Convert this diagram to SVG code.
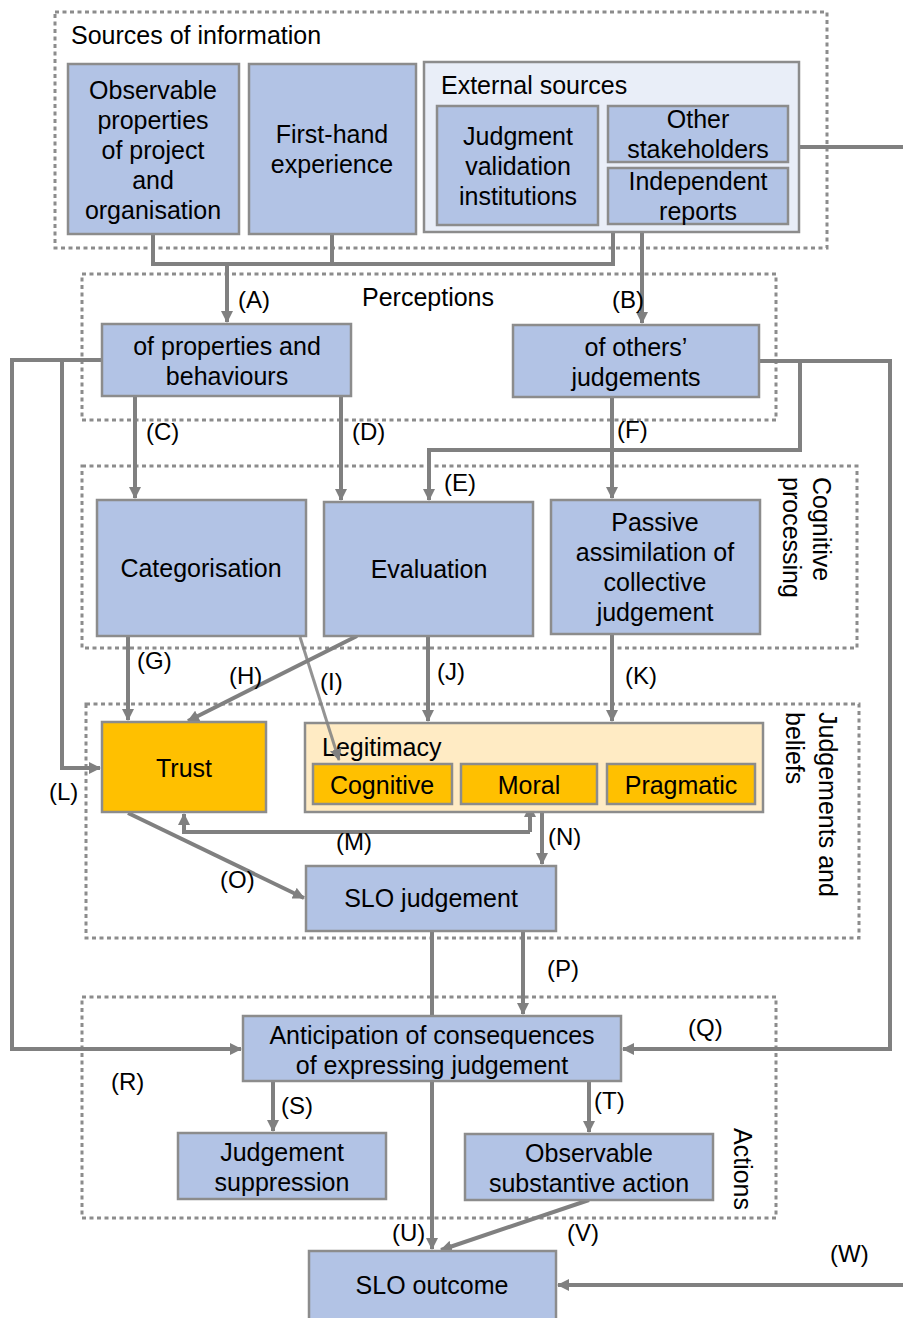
<svg xmlns="http://www.w3.org/2000/svg" width="903" height="1318" viewBox="0 0 903 1318">
<defs>
<marker id="arr" viewBox="0 0 12 12" refX="11" refY="6" markerWidth="12" markerHeight="12" markerUnits="userSpaceOnUse" orient="auto">
<path d="M0,0 L12,6 L0,12 z" fill="#808080"/>
</marker>
<style>
.grp{fill:none;stroke:#8c8c8c;stroke-width:3;stroke-dasharray:4 3.5}
.box{fill:#b2c3e5;stroke:#8c8c8c;stroke-width:2.5}
.org{fill:#ffc000;stroke:#8c8c8c;stroke-width:2.5}
.t{font-family:"Liberation Sans",Arial,sans-serif;font-size:25px;fill:#000}
.c{text-anchor:middle}
.lbl{font-family:"Liberation Sans",Arial,sans-serif;font-size:24px;fill:#000}
.ln{fill:none;stroke:#808080;stroke-width:4}
.la{fill:none;stroke:#808080;stroke-width:4;marker-end:url(#arr)}
</style>
</defs>
<rect width="903" height="1318" fill="#fff"/>

<g id="groups">
<rect class="grp" x="55" y="12" width="772" height="236"/>
<text class="t" x="71" y="44">Sources of information</text>
<rect class="grp" x="82" y="274" width="694" height="146"/>
<text class="t c" x="428" y="306">Perceptions</text>
<rect class="grp" x="82" y="466" width="775" height="182"/>
<text class="t" transform="translate(813,477) rotate(90)">Cognitive</text>
<text class="t" transform="translate(783,477) rotate(90)">processing</text>
<rect class="grp" x="86" y="704" width="773" height="234"/>
<text class="t" transform="translate(819,712) rotate(90)">Judgements and</text>
<text class="t" transform="translate(786,712) rotate(90)">beliefs</text>
<rect class="grp" x="82" y="997" width="694" height="221"/>
<text class="t" transform="translate(734,1128) rotate(90)">Actions</text>
</g>

<g id="connectors">
<path class="ln" d="M153,234 V264 H613 V232"/>
<path class="ln" d="M332,234 V264"/>
<path class="la" d="M227,264 V322"/>
<path class="la" d="M642,228 V323"/>
<path class="ln" d="M799,147 H903"/>
<path class="la" d="M102,360 H12 V1049 H241"/>
<path class="la" d="M62,360 V768 H100"/>
<path class="la" d="M759,361 H890 V1049 H623"/>
<path class="la" d="M800,361 V450 H429 V500"/>
<path class="la" d="M135,396 V498"/>
<path class="la" d="M341,396 V500"/>
<path class="la" d="M612,397 V498"/>
<path class="la" d="M128,636 V720"/>
<path class="la" d="M357,636 L188,721"/>
<path class="la" d="M428,636 V721"/>
<path class="la" d="M612,634 V721"/>
<path class="la" d="M530,832 V806"/>
<path class="la" d="M530,832 H184 V814"/>
<path class="la" d="M542,812 V864"/>
<path class="la" d="M128,813 L304,898"/>
<path class="ln" d="M432,931 V1016"/>
<path class="la" d="M523,931 V1014"/>
<path class="la" d="M273,1081 V1131"/>
<path class="la" d="M589,1081 V1132"/>
<path class="la" d="M432,1081 V1249"/>
<path class="la" d="M589,1200 L441,1250"/>
<path class="la" d="M903,1285 H558"/>
<text class="lbl" x="238" y="308">(A)</text>
<text class="lbl" x="612" y="308">(B)</text>
<text class="lbl" x="146" y="440">(C)</text>
<text class="lbl" x="352" y="440">(D)</text>
<text class="lbl" x="444" y="491">(E)</text>
<text class="lbl" x="617" y="438">(F)</text>
<text class="lbl" x="137" y="669">(G)</text>
<text class="lbl" x="229" y="684">(H)</text>
<text class="lbl" x="320" y="690">(I)</text>
<text class="lbl" x="437" y="680">(J)</text>
<text class="lbl" x="625" y="684">(K)</text>
<text class="lbl" x="49" y="800">(L)</text>
<text class="lbl" x="336" y="850">(M)</text>
<text class="lbl" x="548" y="845">(N)</text>
<text class="lbl" x="220" y="888">(O)</text>
<text class="lbl" x="547" y="977">(P)</text>
<text class="lbl" x="688" y="1036">(Q)</text>
<text class="lbl" x="111" y="1090">(R)</text>
<text class="lbl" x="281" y="1114">(S)</text>
<text class="lbl" x="594" y="1109">(T)</text>
<text class="lbl" x="392" y="1241">(U)</text>
<text class="lbl" x="567" y="1241">(V)</text>
<text class="lbl" x="830" y="1262">(W)</text>
</g>

<g id="n-observable">
<rect class="box" x="68" y="64" width="171" height="170"/>
<text class="t c" x="153" y="99">Observable</text>
<text class="t c" x="153" y="129">properties</text>
<text class="t c" x="153" y="159">of project</text>
<text class="t c" x="153" y="189">and</text>
<text class="t c" x="153" y="219">organisation</text>
</g>
<g id="n-firsthand">
<rect class="box" x="249" y="64" width="167" height="170"/>
<text class="t c" x="332" y="143">First-hand</text>
<text class="t c" x="332" y="173">experience</text>
</g>
<g id="n-external">
<rect x="424" y="62" width="375" height="170" fill="#e9eef8" stroke="#8c8c8c" stroke-width="2.5"/>
<text class="t" x="441" y="94">External sources</text>
</g>
<g id="n-jvi">
<rect class="box" x="437" y="106" width="161" height="119"/>
<text class="t c" x="518" y="145">Judgment</text>
<text class="t c" x="518" y="175">validation</text>
<text class="t c" x="518" y="205">institutions</text>
</g>
<g id="n-other">
<rect class="box" x="608" y="106" width="180" height="56"/>
<text class="t c" x="698" y="128">Other</text>
<text class="t c" x="698" y="158">stakeholders</text>
</g>
<g id="n-indep">
<rect class="box" x="608" y="168" width="180" height="56"/>
<text class="t c" x="698" y="190">Independent</text>
<text class="t c" x="698" y="220">reports</text>
</g>
<g id="n-props">
<rect class="box" x="102" y="324" width="249" height="72"/>
<text class="t c" x="227" y="355">of properties and</text>
<text class="t c" x="227" y="385">behaviours</text>
</g>
<g id="n-others">
<rect class="box" x="513" y="325" width="246" height="72"/>
<text class="t c" x="636" y="356">of others’</text>
<text class="t c" x="636" y="386">judgements</text>
</g>
<g id="n-categ">
<rect class="box" x="97" y="500" width="209" height="136"/>
<text class="t c" x="201" y="577">Categorisation</text>
</g>
<g id="n-eval">
<rect class="box" x="324" y="502" width="209" height="134"/>
<text class="t c" x="429" y="578">Evaluation</text>
</g>
<g id="n-passive">
<rect class="box" x="551" y="500" width="209" height="134"/>
<text class="t c" x="655" y="531">Passive</text>
<text class="t c" x="655" y="561">assimilation of</text>
<text class="t c" x="655" y="591">collective</text>
<text class="t c" x="655" y="621">judgement</text>
</g>
<g id="n-trust">
<rect class="org" x="102" y="722" width="164" height="90"/>
<text class="t c" x="184" y="777">Trust</text>
</g>
<g id="n-legit">
<rect x="305" y="723" width="458" height="89" fill="#ffebc4" stroke="#8c8c8c" stroke-width="2.5"/>
<text class="t" x="322" y="756">Legitimacy</text>
</g>
<g id="n-cognitive">
<rect class="org" x="313" y="764" width="139" height="40"/>
<text class="t c" x="382" y="794">Cognitive</text>
</g>
<g id="n-moral">
<rect class="org" x="461" y="764" width="136" height="40"/>
<text class="t c" x="529" y="794">Moral</text>
</g>
<g id="n-pragmatic">
<rect class="org" x="607" y="764" width="148" height="40"/>
<text class="t c" x="681" y="794">Pragmatic</text>
</g>
<g id="n-slojudg">
<rect class="box" x="306" y="866" width="250" height="65"/>
<text class="t c" x="431" y="907">SLO judgement</text>
</g>
<g id="n-antic">
<rect class="box" x="243" y="1016" width="378" height="65"/>
<text class="t c" x="432" y="1044">Anticipation of consequences</text>
<text class="t c" x="432" y="1074">of expressing judgement</text>
</g>
<g id="n-suppr">
<rect class="box" x="178" y="1133" width="208" height="66"/>
<text class="t c" x="282" y="1161">Judgement</text>
<text class="t c" x="282" y="1191">suppression</text>
</g>
<g id="n-action">
<rect class="box" x="465" y="1134" width="248" height="66"/>
<text class="t c" x="589" y="1162">Observable</text>
<text class="t c" x="589" y="1192">substantive action</text>
</g>
<g id="n-outcome">
<rect class="box" x="309" y="1251" width="247" height="70"/>
<text class="t c" x="432" y="1294">SLO outcome</text>
</g>
<path d="M300,637 L339,760" fill="none" stroke="#808080" stroke-width="3" stroke-opacity="0.85" marker-end="url(#arr)"/>
</svg>
